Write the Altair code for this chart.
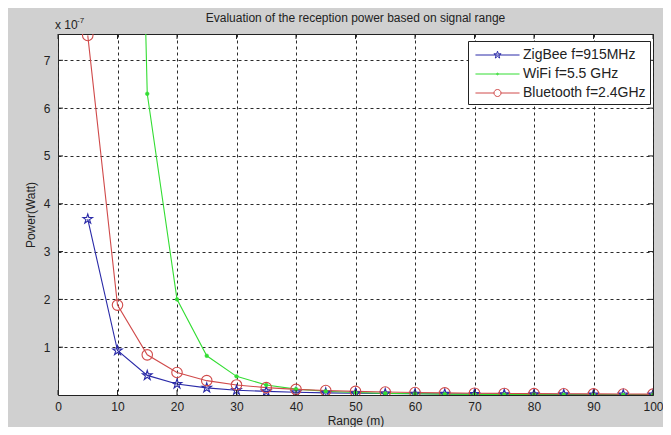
import altair as alt
import pandas as pd

# ---------------- data (power in units of 1e-7 W) ----------------
ranges = [5, 10, 15, 20, 25, 30, 35, 40, 45, 50, 55, 60, 65, 70, 75, 80, 85, 90, 95, 100]
zigbee = [3.68, 0.93, 0.41, 0.23, 0.15, 0.10, 0.075, 0.057, 0.045, 0.037, 0.030, 0.026,
          0.022, 0.019, 0.016, 0.014, 0.013, 0.011, 0.010, 0.009]
wifi = [None, 32.0, 6.30, 2.00, 0.82, 0.39, 0.21, 0.123, 0.078, 0.051, 0.035, 0.025,
        0.018, 0.013, 0.010, 0.0077, 0.006, 0.0048, 0.0039, 0.0032]
bluetooth = [7.52, 1.88, 0.84, 0.47, 0.30, 0.21, 0.154, 0.118, 0.093, 0.075, 0.062, 0.052,
             0.045, 0.038, 0.033, 0.029, 0.026, 0.023, 0.021, 0.019]
series_names = ["ZigBee f=915MHz", "WiFi f=5.5 GHz", "Bluetooth f=2.4GHz"]
series_colors = ["#2a2aa8", "#33dd33", "#d04a4a"]
x_ticks = [0, 10, 20, 30, 40, 50, 60, 70, 80, 90, 100]
y_ticks = [1, 2, 3, 4, 5, 6, 7]
title_text = "Evaluation of the reception power based on signal range"
x_title = "Range (m)"
y_title = "Power(Watt)"

FONT = "Liberation Sans"
TXT = "#222222"
GRID = "#2a2a2a"

rows = []
for name, vals in zip(series_names, [zigbee, wifi, bluetooth]):
    for r, v in zip(ranges, vals):
        if v is not None:
            rows.append({"range": r, "power": v, "series": name})
df = pd.DataFrame(rows)
xt = pd.DataFrame({"t": x_ticks})
yt = pd.DataFrame({"t": y_ticks})

W, H = 595, 361
xs = alt.Scale(domain=[0, 100], nice=False, zero=False)
ys = alt.Scale(domain=[0, 7.55], nice=False, zero=False)

# marker / legend-symbol shapes (style only)
_star_pts = [(0, -1), (0.2234, -0.3074), (0.951, -0.309), (0.3614, 0.1174), (0.5878, 0.809),
             (0, 0.38), (-0.5878, 0.809), (-0.3614, 0.1174), (-0.951, -0.309),
             (-0.2234, -0.3074)]


def star_path(k):
    return "M" + "L".join(f"{x * k:.4f},{y * k:.4f}" for x, y in _star_pts) + "Z"


def circle_path(r):
    return f"M{-r},0A{r},{r} 0 1,1 {r},0A{r},{r} 0 1,1 {-r},0"


star = star_path(1)
# legend symbols: a 44px line with the marker on it (size 361 -> path unit = 9.5px)
L = 2.32
leg_zig = f"M{-L},0L{L},0" + star_path(0.4)
leg_wifi = f"M{-L},0L{L},0" + circle_path(0.09)
leg_bt = f"M{-L},0L-0.37,0M0.37,0L{L},0" + circle_path(0.37)

xenc = alt.X("range:Q", scale=xs,
             axis=alt.Axis(values=x_ticks, title=x_title, grid=True, ticks=False,
                           domain=False, gridDash=[3, 3], gridColor=GRID,
                           gridOpacity=1, labelPadding=6, titlePadding=3,
                           labelFlush=False))
yenc = alt.Y("power:Q", scale=ys,
             axis=alt.Axis(values=y_ticks, title=y_title, grid=True, ticks=False,
                           domain=False, gridDash=[3, 3], gridColor=GRID,
                           gridOpacity=1, labelPadding=8, titlePadding=6))

lines = alt.Chart(df).mark_line(clip=True, strokeWidth=1.1).encode(
    x=xenc, y=yenc,
    color=alt.Color("series:N", scale=alt.Scale(domain=series_names, range=series_colors),
                    legend=None),
    detail="series:N",
)

pt_zig = alt.Chart(df).transform_filter(alt.datum.series == series_names[0]).mark_point(
    clip=True, shape=star, size=100, filled=False, stroke=series_colors[0], strokeWidth=1.1,
    opacity=1).encode(x="range:Q", y="power:Q")
pt_wifi = alt.Chart(df).transform_filter(alt.datum.series == series_names[1]).mark_point(
    clip=True, shape="circle", size=14, filled=True, fill=series_colors[1],
    stroke=series_colors[1], strokeWidth=0.5, opacity=1).encode(x="range:Q", y="power:Q")
pt_bt = alt.Chart(df).transform_filter(alt.datum.series == series_names[2]).mark_point(
    clip=True, shape="circle", size=110, filled=False, stroke=series_colors[2],
    strokeWidth=1.1, opacity=1).encode(x="range:Q", y="power:Q")

# invisible layer whose only job is to produce the legend
legend_layer = alt.Chart(df).mark_point(
    filled=False, strokeWidth=1, opacity=0, clip=True).encode(
    x="range:Q", y="power:Q",
    stroke=alt.Stroke("series:N", scale=alt.Scale(domain=series_names, range=series_colors),
                      legend=alt.Legend(title=None)),
    shape=alt.Shape("series:N", scale=alt.Scale(domain=series_names,
                                                range=[leg_zig, leg_wifi, leg_bt]),
                    legend=alt.Legend(title=None)),
)

tick_len = 5
bt = alt.Chart(xt).mark_rule(color=TXT, strokeWidth=1).encode(
    x=alt.X("t:Q", scale=xs), y=alt.value(H), y2=alt.value(H - tick_len))
tt = alt.Chart(xt).mark_rule(color=TXT, strokeWidth=1).encode(
    x=alt.X("t:Q", scale=xs), y=alt.value(0), y2=alt.value(tick_len))
lt = alt.Chart(yt).mark_rule(color=TXT, strokeWidth=1).encode(
    y=alt.Y("t:Q", scale=ys), x=alt.value(0), x2=alt.value(tick_len))
rt = alt.Chart(yt).mark_rule(color=TXT, strokeWidth=1).encode(
    y=alt.Y("t:Q", scale=ys), x=alt.value(W), x2=alt.value(W - tick_len))

title_mark = alt.Chart(pd.DataFrame({"t": [title_text]})).mark_text(
    font=FONT, fontSize=12, color=TXT, align="center", baseline="alphabetic").encode(
    text="t:N", x=alt.value(W / 2), y=alt.value(-12))
exp_base = alt.Chart(pd.DataFrame({"t": ["x 10"]})).mark_text(
    font=FONT, fontSize=12, color=TXT, align="left", baseline="alphabetic").encode(
    text="t:N", x=alt.value(-3), y=alt.value(-5))
exp_sup = alt.Chart(pd.DataFrame({"t": ["-7"]})).mark_text(
    font=FONT, fontSize=8, color=TXT, align="left", baseline="alphabetic").encode(
    text="t:N", x=alt.value(19), y=alt.value(-11))

chart = alt.layer(
    lines, pt_zig, pt_wifi, pt_bt, legend_layer, bt, tt, lt, rt,
    title_mark, exp_base, exp_sup
).resolve_scale(
    stroke="independent", shape="independent"
).properties(
    width=W, height=H,
    autosize=alt.AutoSizeParams(type="none"),
    padding={"left": 50, "top": 26, "right": 10, "bottom": 32},
    background="#d0d0d0",
).configure_view(
    fill="white", stroke=TXT, strokeWidth=1
).configure_axis(
    labelFont=FONT, titleFont=FONT, labelFontSize=12, titleFontSize=12,
    labelColor=TXT, titleColor=TXT, titleFontWeight="normal",
).configure_legend(
    orient="none", legendX=410, legendY=7, fillColor="white", strokeColor=TXT,
    padding=4, labelFont=FONT, labelFontSize=14, labelColor=TXT, symbolSize=361,
    symbolStrokeWidth=1, symbolOffset=15.5, labelOffset=15.5, rowPadding=2,
    symbolOpacity=1,
)

chart.save("out.html", embed_options={"renderer": "svg", "actions": False})
